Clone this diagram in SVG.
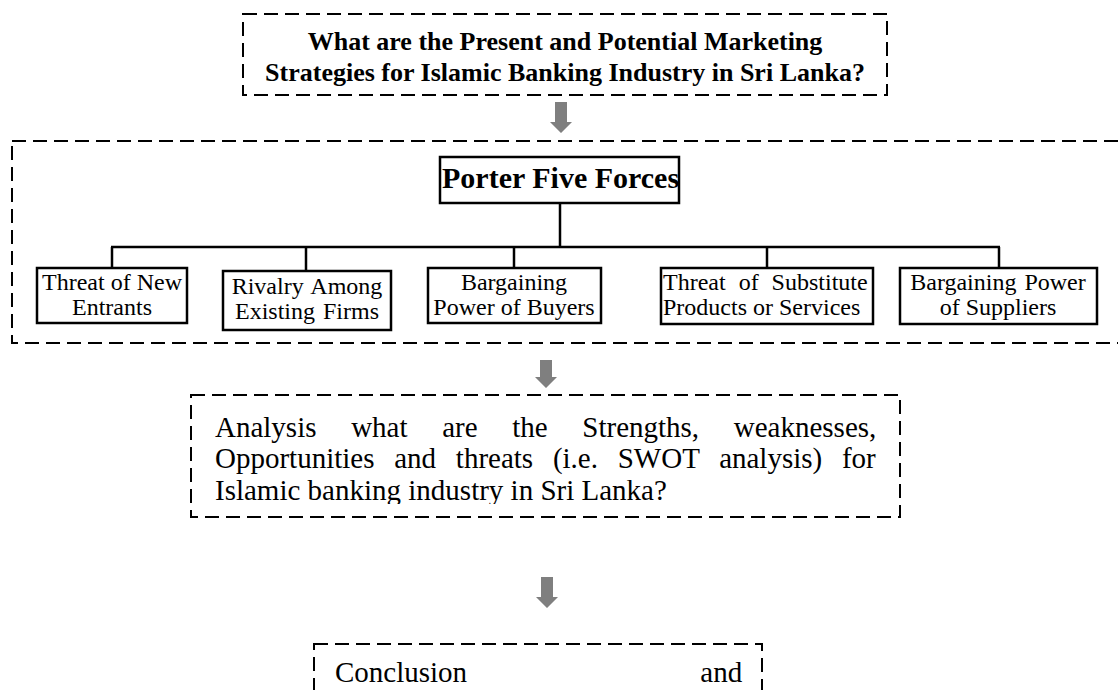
<svg xmlns="http://www.w3.org/2000/svg" width="1118" height="690" viewBox="0 0 1118 690">
  <style>
    .dash { fill: none; stroke: #000; stroke-width: 2; stroke-dasharray: 14 7; }
    .box { fill: #fff; stroke: #000; stroke-width: 2.5; }
    .line { fill: none; stroke: #000; stroke-width: 2.5; }
    .arrow { fill: #7f7f7f; stroke: none; }
    .bold { font-family: "Liberation Serif", "Times New Roman", serif; font-weight: bold; fill: #000; }
    .reg { font-family: "Liberation Serif", "Times New Roman", serif; fill: #000; }
    .small { font-size: 24px; }
    .big { font-size: 29px; }
  </style>
  <defs>
    <clipPath id="swotClip">
      <rect x="190" y="380" width="712" height="124"/>
    </clipPath>
  </defs>
  <rect width="1118" height="690" fill="#fff"/>

  <g id="question">
    <rect class="dash" x="243" y="14" width="644" height="81"/>
    <text class="bold" font-size="26" text-anchor="middle" x="565" y="50">What are the Present and Potential Marketing</text>
    <text class="bold" font-size="26" text-anchor="middle" x="565" y="81">Strategies for Islamic Banking Industry in Sri Lanka?</text>
  </g>

  <g id="porter-frame">
    <rect class="dash" x="12" y="141" width="1120" height="202"/>
  </g>

  <g id="connectors">
    <polygon class="arrow" points="555,102 567,102 567,122 572,122 561,133 550,122 555,122"/>
    <line class="line" x1="560" y1="203" x2="560" y2="247"/>
    <line class="line" x1="111" y1="247" x2="1000" y2="247"/>
    <line class="line" x1="112" y1="247" x2="112" y2="268"/>
    <line class="line" x1="306" y1="247" x2="306" y2="271"/>
    <line class="line" x1="514" y1="247" x2="514" y2="268"/>
    <line class="line" x1="767" y1="247" x2="767" y2="268"/>
    <line class="line" x1="999" y1="247" x2="999" y2="268"/>
    <polygon class="arrow" points="540,360 552,360 552,377 557,377 546,388 535,377 540,377"/>
    <polygon class="arrow" points="541,577 553,577 553,597 558,597 547,608 536,597 541,597"/>
  </g>

  <g id="porter">
    <rect class="box" x="440" y="157" width="239" height="46"/>
    <text class="bold" font-size="30" x="442" y="188">Porter Five Forces</text>
  </g>

  <g id="new-entrants">
    <rect class="box" x="37" y="268" width="150" height="55"/>
    <text class="reg small" text-anchor="middle" x="112" y="290">Threat of New</text>
    <text class="reg small" text-anchor="middle" x="112" y="315">Entrants</text>
  </g>

  <g id="rivalry">
    <rect class="box" x="223" y="271" width="168" height="59"/>
    <text class="reg small" text-anchor="middle" x="307" y="294" word-spacing="2">Rivalry Among</text>
    <text class="reg small" text-anchor="middle" x="307" y="319" word-spacing="2">Existing Firms</text>
  </g>

  <g id="buyers">
    <rect class="box" x="428" y="268" width="173" height="55"/>
    <text class="reg small" text-anchor="middle" x="514" y="290">Bargaining</text>
    <text class="reg small" text-anchor="middle" x="514" y="315">Power of Buyers</text>
  </g>

  <g id="substitutes">
    <rect class="box" x="661" y="268" width="212" height="56"/>
    <text class="reg small" x="663" y="290" word-spacing="7">Threat of Substitute</text>
    <text class="reg small" x="663" y="315">Products or Services</text>
  </g>

  <g id="suppliers">
    <rect class="box" x="900" y="268" width="197" height="56"/>
    <text class="reg small" text-anchor="middle" x="998" y="290" word-spacing="2">Bargaining Power</text>
    <text class="reg small" text-anchor="middle" x="998" y="315">of Suppliers</text>
  </g>

  <g id="swot">
    <rect class="dash" x="191" y="395" width="709" height="122"/>
    <g clip-path="url(#swotClip)">
      <text class="reg big" x="215" y="437" word-spacing="27.4">Analysis what are the Strengths, weaknesses,</text>
      <text class="reg big" x="215" y="468" word-spacing="12.5">Opportunities and threats (i.e. SWOT analysis) for</text>
      <text class="reg big" x="215" y="500">Islamic banking industry in Sri Lanka?</text>
    </g>
  </g>

  <g id="conclusion">
    <rect class="dash" x="314" y="644" width="448" height="80"/>
    <text class="reg big" x="335" y="682" word-spacing="226">Conclusion and</text>
  </g>
</svg>
